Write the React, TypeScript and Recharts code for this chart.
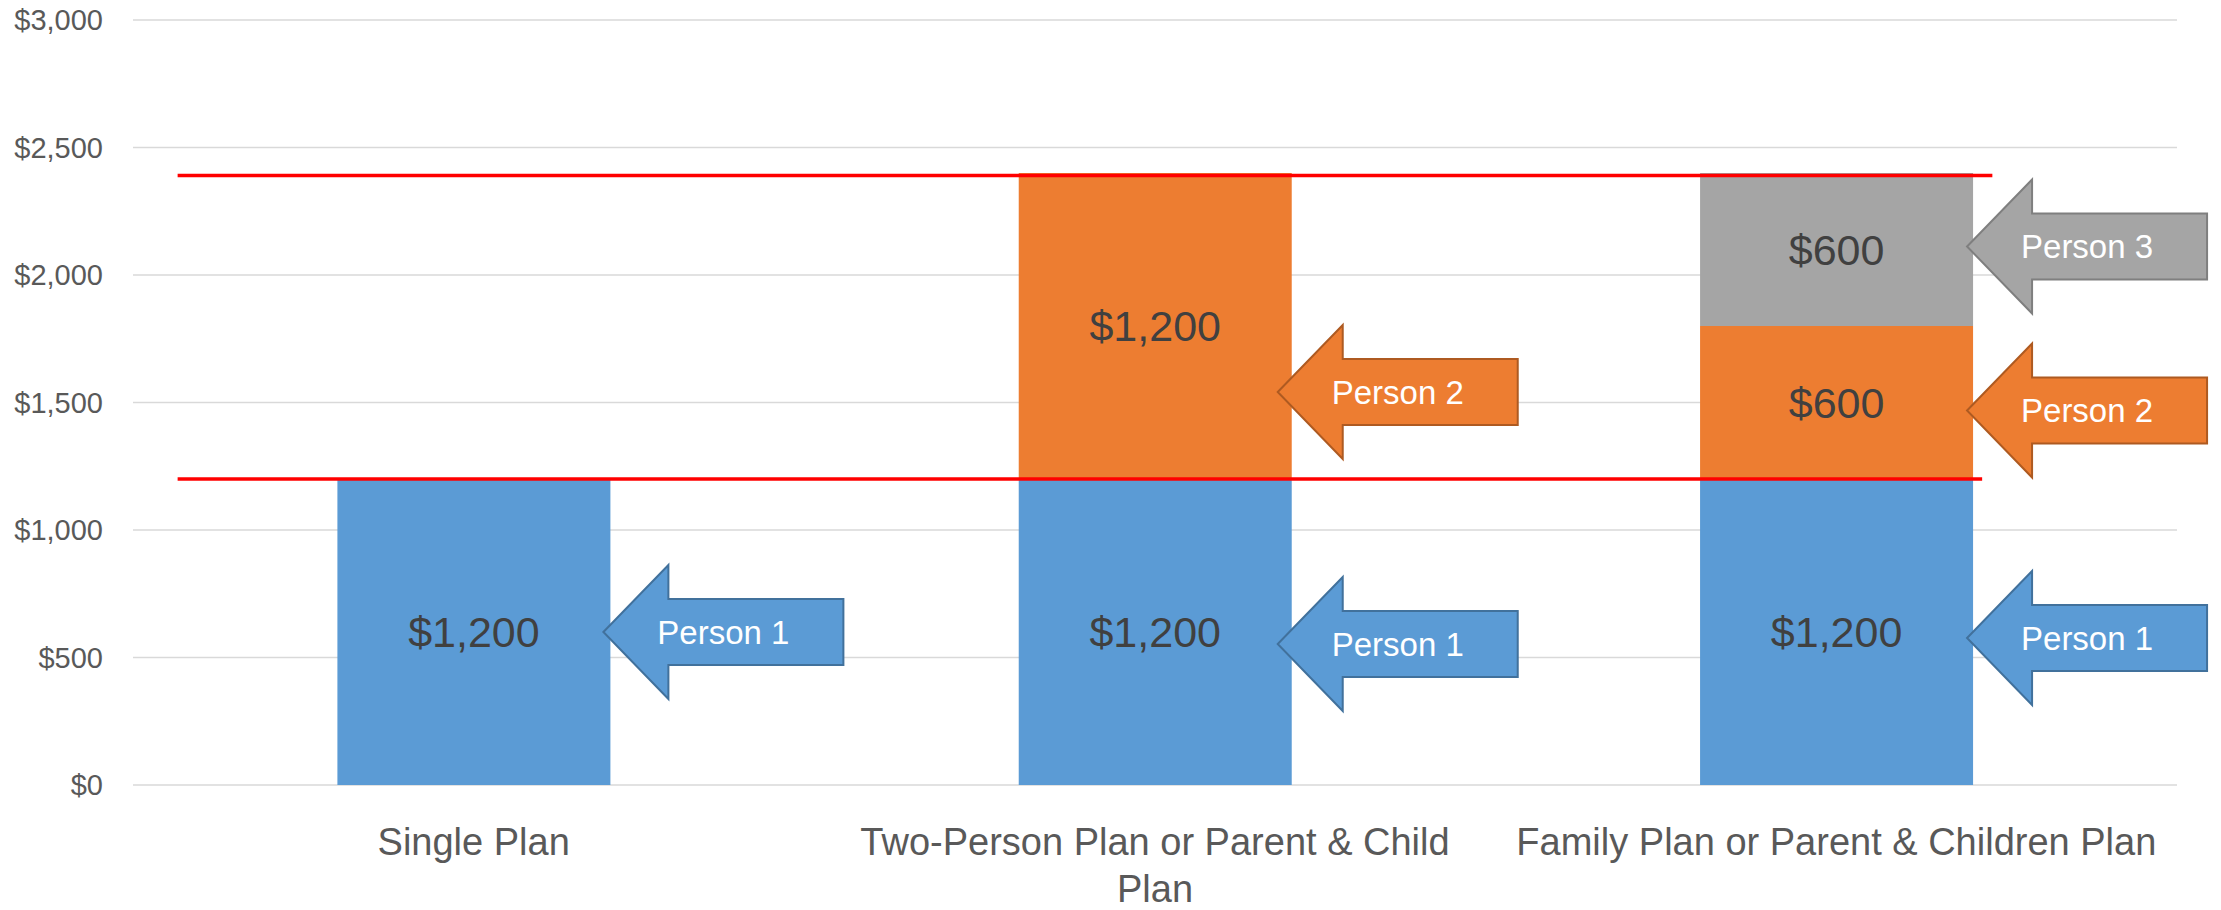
import React from 'react';
import { BarChart, Bar, XAxis, YAxis, CartesianGrid, LabelList, ReferenceLine } from 'recharts';

const categories = [
  'Single Plan',
  'Two-Person Plan or Parent & Child Plan',
  'Family Plan or Parent & Children Plan',
];
const person1 = [1200, 1200, 1200];
const person2 = [0, 1200, 600];
const person3 = [0, 0, 600];
const seriesNames = ['Person 1', 'Person 2', 'Person 3'];
const yTicks = [0, 500, 1000, 1500, 2000, 2500, 3000];
const lowerLineValue = 1200;
const upperLineValue = 2390;

const data = categories.map((name, i) => ({
  name,
  p1: person1[i],
  p2: person2[i],
  p3: person3[i],
}));

const FONT = "'Liberation Sans', Arial, sans-serif";
const fills = ['#5B9BD5', '#ED7D31', '#A5A5A5'];
const strokes = ['#41719C', '#AE5A21', '#7F7F7F'];
const seriesKeys = ['p1', 'p2', 'p3'];
// vertical nudge of each arrow from its segment's centre (px), per series / category
const arrowNudge = [
  [0, 12, 6],
  [0, 66, 8],
  [0, 0, -3],
];
const tipInset = [-7, -14, -6];

const money = (v: number) => '$' + v.toLocaleString('en-US');

const getBox = (props: any) => {
  const vb = props.viewBox && props.viewBox.width !== undefined ? props.viewBox : props;
  const x = Number(vb.x);
  const y = Number(vb.y);
  const w = Number(vb.width);
  const h = Number(vb.height);
  return { x: Math.min(x, x + w), y: Math.min(y, y + h), w: Math.abs(w), h: Math.abs(h) };
};

const ValueLabel = (props: any) => {
  const { value } = props;
  if (value === null || value === undefined || Number(value) === 0) return null;
  const b = getBox(props);
  return (
    <text
      x={b.x + b.w / 2}
      y={b.y + b.h / 2}
      textAnchor="middle"
      dominantBaseline="central"
      fontSize={43}
      fontFamily={FONT}
      fill="#404040"
    >
      {money(Number(value))}
    </text>
  );
};

// the label value is the category index (null when the segment is empty)
const makeArrow = (s: number) => (props: any) => {
  const { value } = props;
  if (value === null || value === undefined) return null;
  const index = Number(value);
  const b = getBox(props);
  const tipX = b.x + b.w + tipInset[index];
  const cy = b.y + b.h / 2 + arrowNudge[s][index];
  const headLen = 65;
  const len = 240;
  const headH = 67;
  const shaftH = 33;
  const pts = [
    [tipX, cy],
    [tipX + headLen, cy - headH],
    [tipX + headLen, cy - shaftH],
    [tipX + len, cy - shaftH],
    [tipX + len, cy + shaftH],
    [tipX + headLen, cy + shaftH],
    [tipX + headLen, cy + headH],
  ]
    .map((p) => p.join(','))
    .join(' ');
  return (
    <g>
      <polygon points={pts} fill={fills[s]} stroke={strokes[s]} strokeWidth={2} />
      <text
        x={tipX + len / 2}
        y={cy}
        textAnchor="middle"
        dominantBaseline="central"
        fontSize={33}
        fontFamily={FONT}
        fill="#FFFFFF"
      >
        {seriesNames[s]}
      </text>
    </g>
  );
};

const arrowKey = (s: number) => (row: any) =>
  row && Number(row[seriesKeys[s]]) > 0 ? categories.indexOf(row.name) : null;

let measureCtx: any = null;
const measure = (s: string, font: string) => {
  if (!measureCtx && typeof document !== 'undefined') {
    measureCtx = document.createElement('canvas').getContext('2d');
  }
  if (!measureCtx) return s.length * 18;
  measureCtx.font = font;
  return measureCtx.measureText(s).width;
};

const wrapWords = (s: string, max: number, font: string) => {
  const words = s.split(' ');
  const lines: string[] = [];
  let cur = '';
  words.forEach((w) => {
    const test = cur ? cur + ' ' + w : w;
    if (cur && measure(test, font) > max) {
      lines.push(cur);
      cur = w;
    } else {
      cur = test;
    }
  });
  if (cur) lines.push(cur);
  return lines;
};

const CategoryTick = (props: any) => {
  const { x, y, payload } = props;
  const lines = wrapWords(String(payload.value), 656, `38px ${FONT}`);
  return (
    <text x={x} y={y} textAnchor="middle" fontSize={38} fontFamily={FONT} fill="#595959">
      {lines.map((l, i) => (
        <tspan key={i} x={x} dy={i === 0 ? '0.71em' : 47}>
          {l}
        </tspan>
      ))}
    </text>
  );
};

// red line extends beyond the first / last category centres by a fraction of a band
const makeRedLine = (leftFrac: number, rightFrac: number) => (p: any) => {
  const band = (Number(p.x2) - Number(p.x1)) / 2;
  return (
    <line
      x1={Number(p.x1) - leftFrac * band}
      y1={p.y1}
      x2={Number(p.x2) + rightFrac * band}
      y2={p.y2}
      stroke="#FF0000"
      strokeWidth={3.5}
    />
  );
};

export default function App() {
  return (
    <div style={{ position: 'absolute', left: 0, top: 0, background: '#fff' }}>
      <BarChart
        width={2221}
        height={910}
        data={data}
        margin={{ top: 20, right: 44, left: 0, bottom: 0 }}
        barCategoryGap="30%"
      >
        <CartesianGrid vertical={false} stroke="#D9D9D9" strokeWidth={1.5} />
        <XAxis
          dataKey="name"
          axisLine={false}
          tickLine={false}
          tickSize={0}
          tickMargin={43}
          height={125}
          interval={0}
          tick={<CategoryTick />}
        />
        <YAxis
          domain={[0, 3000]}
          ticks={yTicks}
          tickFormatter={money}
          axisLine={false}
          tickLine={false}
          tickSize={0}
          tickMargin={30}
          width={133}
          tick={{ fill: '#595959', fontSize: 29, fontFamily: FONT }}
        />
        {seriesKeys.map((k, s) => (
          <Bar key={k} dataKey={k} stackId="a" fill={fills[s]} isAnimationActive={false}>
            <LabelList dataKey={k} content={ValueLabel} />
            <LabelList dataKey={arrowKey(s)} content={makeArrow(s)} />
          </Bar>
        ))}
        <ReferenceLine
          segment={[
            { x: categories[0], y: lowerLineValue },
            { x: categories[2], y: lowerLineValue },
          ]}
          ifOverflow="visible"
          shape={makeRedLine(0.4345, 0.214)}
        />
        <ReferenceLine
          segment={[
            { x: categories[0], y: upperLineValue },
            { x: categories[2], y: upperLineValue },
          ]}
          ifOverflow="visible"
          shape={makeRedLine(0.4345, 0.229)}
        />
      </BarChart>
    </div>
  );
}
